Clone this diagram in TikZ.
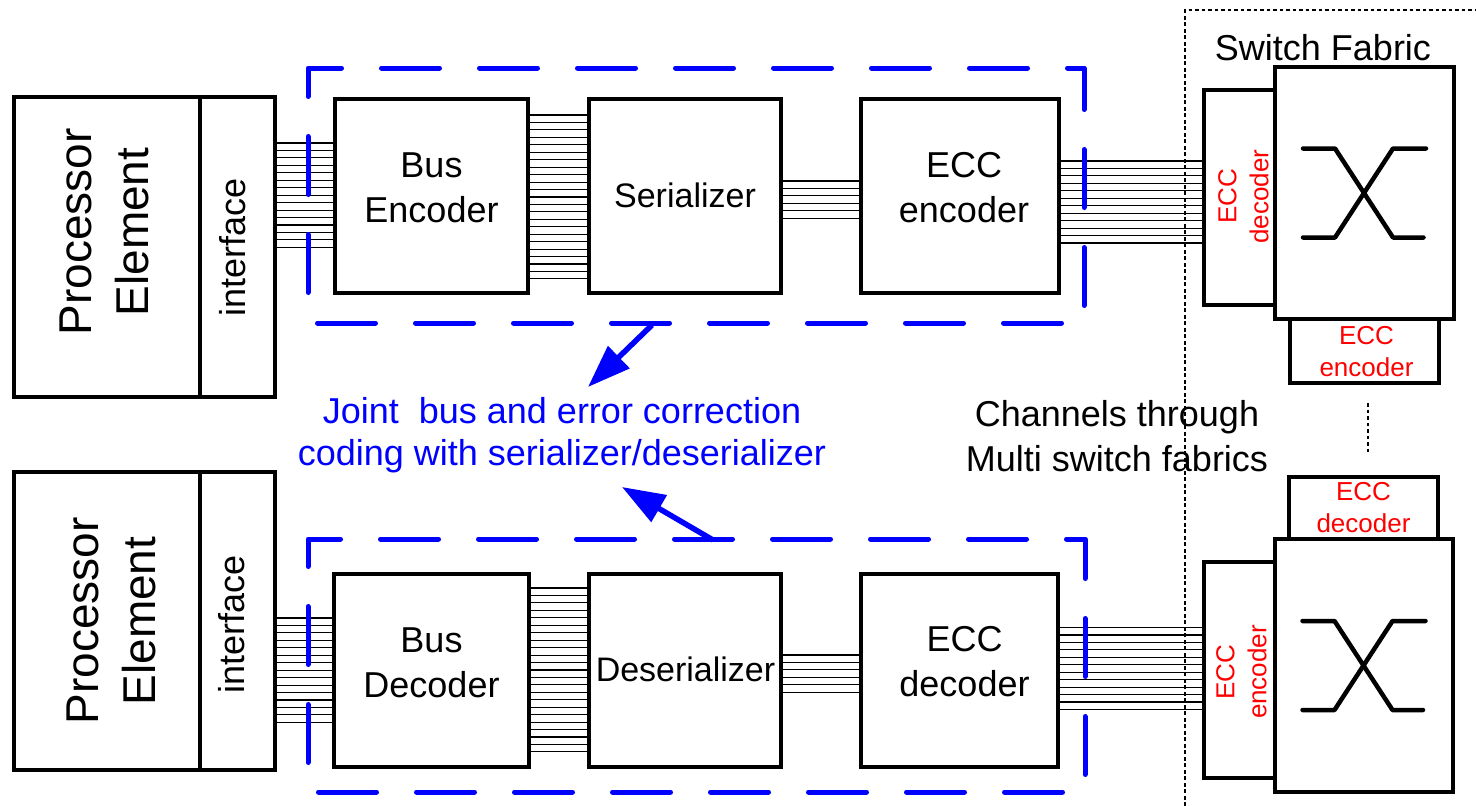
\documentclass[tikz,border=0pt]{standalone}
\usepackage{fontspec}
\setmainfont{Liberation Sans}
\usetikzlibrary{arrows.meta}
\definecolor{pblue}{RGB}{0,0,255}
\definecolor{pred}{RGB}{255,0,0}
\pgfdeclarelayer{wires}
\pgfsetlayers{wires,main}

\begin{document}
\begin{tikzpicture}[x=1pt,y=-1pt,
  box/.style={draw=black,line width=4pt,fill=white,inner sep=0pt},
  wire/.style={draw=black,line width=1.1pt},
  grp/.style={draw=pblue,line width=5pt,line cap=round,line join=round,dash pattern=on 58pt off 40pt},
  fab/.style={draw=black,line width=2.5pt,dash pattern=on 3.8pt off 2.7pt},
  xbar/.style={draw=black,line width=4.5pt,line cap=round,line join=round},
  jarrow/.style={draw=pblue,line width=5.5pt,-{Triangle[length=43pt,width=30pt]}},
  big/.style={font=\fontsize{46}{57}\selectfont,align=center,inner sep=0pt},
  lbl/.style={font=\fontsize{36}{45}\selectfont,align=center,inner sep=0pt},
  ser/.style={font=\fontsize{34}{40}\selectfont,inner sep=0pt},
  note/.style={font=\fontsize{36}{42}\selectfont,align=center,inner sep=0pt,text=pblue},
  small/.style={font=\fontsize{26}{32}\selectfont,align=center,inner sep=0pt,text=pred}]

\useasboundingbox (0,0) rectangle (1476,806);

% ---------- transmit path (upper row) ----------
\node[box,minimum width=186pt,minimum height=300pt] (pe1) at (107,247) {};
\node[box,minimum width=75pt,minimum height=300pt] (if1) at (237.5,247) {};
\node[box,minimum width=193pt,minimum height=194pt] (enc1) at (431.5,196) {};
\node[box,minimum width=192pt,minimum height=194pt] (ser1) at (685,196) {};
\node[box,minimum width=198pt,minimum height=194pt] (ecc1) at (960,196) {};

% ---------- receive path (lower row) ----------
\node[box,minimum width=186pt,minimum height=298pt] (pe2) at (107,621) {};
\node[box,minimum width=75pt,minimum height=298pt] (if2) at (237.5,621) {};
\node[box,minimum width=195pt,minimum height=193pt] (dec2) at (431.5,670.5) {};
\node[box,minimum width=192pt,minimum height=193pt] (ser2) at (685,670.5) {};
\node[box,minimum width=197pt,minimum height=193pt] (ecc2) at (959.5,670.5) {};

% ---------- switch fabrics ----------
\node[box,minimum width=179pt,minimum height=252pt] (sw1) at (1364.5,193) {};
\node[box,minimum width=71pt,minimum height=215.5pt] (sd1) at (1239.5,197.25) {};
\node[box,minimum width=149pt,minimum height=64pt] (se1) at (1364.5,351) {};

\node[box,minimum width=178pt,minimum height=253pt] (sw2) at (1364,665.5) {};
\node[box,minimum width=149pt,minimum height=62pt] (sd2) at (1363.5,508) {};
\node[box,minimum width=71pt,minimum height=216pt] (se2) at (1239.5,670) {};

% parallel bus wires between the blocks, kept beneath the block outlines
\begin{pgfonlayer}{wires}
\foreach \a/\b/\n/\yo in {if1/enc1/14/143, enc1/ser1/22/115, ser1/ecc1/5/181, ecc1/sd1/11/161,
                          if2/dec2/14/618, dec2/ser2/22/588, ser2/ecc2/5/655, ecc2/se2/11/627.5}{
  \foreach \k in {0,...,\n}{
    \pgfmathsetmacro\wy{\yo+7.45*\k}
    \coordinate (w) at (0,\wy);
    \draw[wire] (\a.east |- w) -- (\b.west |- w);
  }}
\end{pgfonlayer}

% crossbar symbols
\foreach \s in {sw1,sw2}{
  \begin{scope}[shift={(\s.center)}]
    \draw[xbar] (-61.5,-44.5) -- (-29.5,-44.5) -- (28.5,44.5) -- (59,44.5);
    \draw[xbar] (61.5,-44.5) -- (28.5,-44.5) -- (-29.5,44.5) -- (-61.5,44.5);
  \end{scope}}

% ---------- block labels ----------
\node[big,rotate=90] (pe1t) at (104,232) {Processor\\Element};
\node[big,rotate=90] (pe2t) at (111,621) {Processor\\Element};
\node[lbl,rotate=90] (if1t) at (233,247.5) {interface};
\node[lbl,rotate=90] (if2t) at (232,624) {interface};
\node[lbl] (enc1t) at (431.5,188) {Bus\\Encoder};
\node[lbl] (dec2t) at (431.5,662.5) {Bus\\Decoder};
\node[ser,anchor=base] (ser1t) at (685,207) {Serializer};
\node[ser,anchor=base] (ser2t) at (685.5,681.5) {Deserializer};
\node[lbl] (ecc1t) at (964,187.5) {ECC\\encoder};
\node[lbl] (ecc2t) at (964.5,662) {ECC\\decoder};

\node[small,rotate=90] (sd1t) at (1243.5,196.5) {ECC\\decoder};
\node[small] (se1t) at (1366.5,351.7) {ECC\\encoder};
\node[small] (sd2t) at (1363.5,508) {ECC\\decoder};
\node[small,rotate=90] (se2t) at (1241.5,672) {ECC\\encoder};

\node[lbl,anchor=base] (swf) at (1323,60) {Switch Fabric};
\node[lbl] (chan) at (1117,436.5) {Channels through\\Multi switch fabrics};

% ---------- joint coding groups ----------
\draw[grp] (308,92.5) -- (308,68) -- (1084,68) -- (1084,323) -- (308,323) -- cycle;
\draw[grp] (308,564.5) -- (308,539) -- (1085,539) -- (1085,792) -- (308,792) -- cycle;

\node[note] (joint) at (562,435) {Joint\ \ bus and error correction\\coding with serializer/deserializer};
\coordinate (g1) at (652,325);
\coordinate (g1tip) at (588,387);
\coordinate (g2) at (713,540);
\coordinate (g2tip) at (622,487);
\draw[jarrow] (g1) -- (g1tip);
\draw[jarrow] (g2) -- (g2tip);

% ---------- switch fabric region ----------
\draw[fab] (1185,806) -- (1185,10) -- (1476,10);
\draw[fab] (1368,403) -- (1368,453);

\end{tikzpicture}
\end{document}
